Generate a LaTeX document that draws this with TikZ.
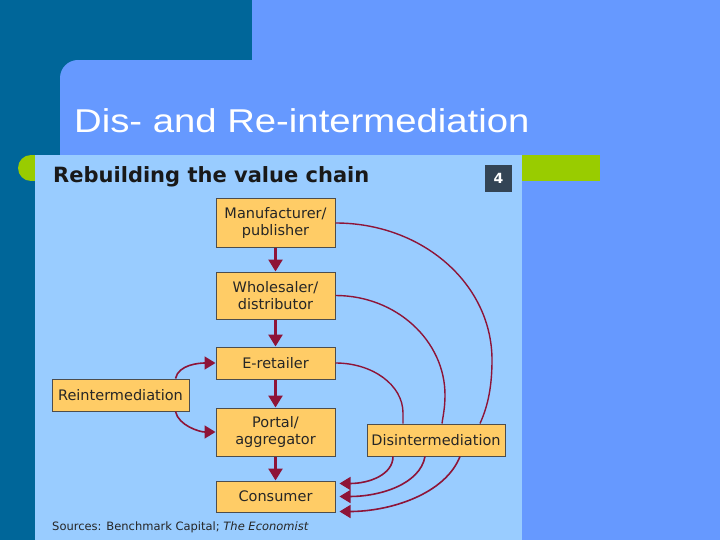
\documentclass[tikz,border=0pt]{standalone}
\usepackage{fontspec}
\setmainfont{Liberation Sans}
\newfontfamily\chartfont{DejaVu Sans}
\usetikzlibrary{arrows.meta,calc}
\definecolor{bgblue}{HTML}{6699FF}
\definecolor{darkteal}{HTML}{006699}
\definecolor{barGreen}{HTML}{99CC00}
\definecolor{chartbg}{HTML}{99CCFF}
\definecolor{boxfill}{HTML}{FFCC66}
\definecolor{boxline}{HTML}{4D4D4D}
\definecolor{arrred}{HTML}{8E1438}
\definecolor{numbox}{HTML}{334455}
\begin{document}
\begin{tikzpicture}[x=1pt,y=-1pt,
  chainbox/.style={draw=boxline,fill=boxfill,line width=1pt,minimum width=119pt,
    align=center,inner sep=0pt,font=\chartfont\fontsize{14.5}{16.5}\selectfont,text=black!85},
  flow/.style={draw=arrred,line width=2.6pt,-{Triangle[length=12pt,width=14pt]}},
  thin/.style={draw=arrred,line width=1.4pt},
  thinarr/.style={draw=arrred,line width=1.6pt,-{Triangle[length=11pt,width=13pt]}}]
\useasboundingbox (0,0) rectangle (720,540);
\fill[bgblue] (0,0) rectangle (720,540);
\fill[darkteal] (0,0) rectangle (252,60);
\fill[darkteal] (0,0) rectangle (60,540);
\fill[darkteal] (60,60) rectangle (78,78);
\fill[bgblue] (78,78) circle (18);
\node[anchor=base west,text=white,inner sep=0pt,font=\fontsize{33}{36}\selectfont] (title) at (74,133) {\scalebox{1.16}[1]{Dis- and Re-intermediation}};
\fill[barGreen] (31,155) rectangle (600,181);
\fill[barGreen] (31,168) circle (13);
\fill[chartbg] (35,155) rectangle (522,540);
\node[anchor=base west,inner sep=0pt,font=\chartfont\bfseries\fontsize{21}{24}\selectfont,text=black!90] (ctitle) at (53,183) {Rebuilding the value chain};
\node[fill=numbox,text=white,minimum size=27pt,inner sep=0pt,font=\chartfont\bfseries\fontsize{14}{16}\selectfont] (num) at (498.5,178.5) {4};
\node[chainbox,minimum height=48pt] (man) at (275.5,223) {Manufacturer/\\publisher};
\node[chainbox,minimum height=47pt] (who) at (275.5,295.5) {Wholesaler/\\distributor};
\node[chainbox,minimum height=32pt] (ere) at (275.5,363) {E-retailer};
\node[chainbox,minimum height=48pt] (por) at (275.5,432) {Portal/\\aggregator};
\node[chainbox,minimum height=31pt] (con) at (275.5,496.5) {Consumer};
\node[chainbox,minimum width=137pt,minimum height=32pt] (rei) at (120.5,395) {Reintermediation};
\node[chainbox,minimum width=138pt,minimum height=32pt] (dis) at (436,440) {Disintermediation};
\node[anchor=base west,inner sep=0pt,font=\chartfont\fontsize{11.5}{14}\selectfont,text=black!85] (src) at (52,530) {Sources: Benchmark Capital; \textit{The Economist}};
\draw[flow] (man) -- (who);
\draw[flow] (who) -- (ere);
\draw[flow] (ere) -- (por);
\draw[flow] (por) -- (con);
% reintermediation
\draw[thinarr] ($(rei.north east)+(-14,0)$) .. controls +(3,-14) and +(-16,0) .. (ere.west);
\draw[thinarr] ($(rei.south east)+(-14,0)$) .. controls +(3,14) and +(-16,0) .. (por.west);
% disintermediation (into box)
\draw[thin] (man.east) .. controls +(87,0) and (492,284) .. (492,360) .. controls (492,392) and (486,410) .. ($(dis.north)+(44,0)$);
\draw[thin] (who.east) .. controls +(61,0) and (445,341) .. (445,395) .. controls (445,408) and (443,416) .. ($(dis.north)+(6,0)$);
\draw[thin] (ere.east) .. controls +(37,0) and (403,385) .. (403,413) -- ($(dis.north)+(-33,0)$);
% out of box to consumer
\draw[thinarr] ($(dis.south)+(-43,0)$) .. controls +(0,18) and +(30,0) .. ($(con.east)+(4,-13)$);
\draw[thinarr] ($(dis.south)+(-11,0)$) .. controls +(-5,28) and +(40,0) .. ($(con.east)+(4,0)$);
\draw[thinarr] ($(dis.south)+(24,0)$) .. controls +(-15,38) and +(50,0) .. ($(con.east)+(4,15)$);
\end{tikzpicture}
\end{document}
